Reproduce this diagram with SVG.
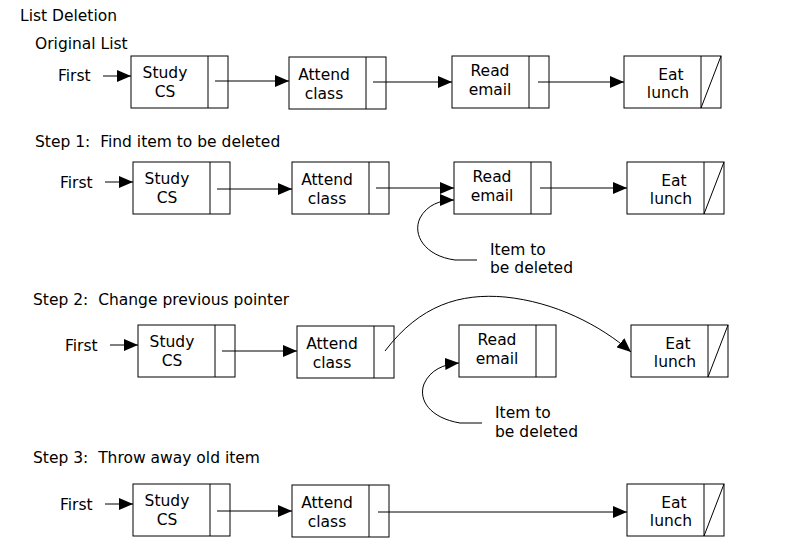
<svg xmlns="http://www.w3.org/2000/svg" width="800" height="550" viewBox="0 0 800 550">
<defs>
<style>
text{font-family:"DejaVu Sans","Liberation Sans",sans-serif;font-size:15.5px;fill:#000;white-space:pre}
.n text{text-anchor:middle}
.box{fill:#fff;stroke:#000;stroke-width:1}
.ln{fill:none;stroke:#000;stroke-width:1}
.c{fill:none;stroke:#000;stroke-width:1;marker-end:url(#ah)}
</style>
<marker id="ah" markerUnits="userSpaceOnUse" markerWidth="16" markerHeight="12" refX="14" refY="6" orient="auto">
<path d="M0,0 L14,6 L0,12 z" fill="#000"/>
</marker>
<g id="cell">
<rect class="box" x="0" y="0" width="97" height="52"/>
<line class="ln" x1="77" y1="0" x2="77" y2="52"/>
</g>
</defs>

<text x="20" y="21">List Deletion</text>
<text x="35" y="49">Original List</text>
<text x="35" y="147" xml:space="preserve">Step 1:  Find item to be deleted</text>
<text x="33" y="305" xml:space="preserve">Step 2:  Change previous pointer</text>
<text x="33" y="463" xml:space="preserve">Step 3:  Throw away old item</text>

<text x="58" y="81">First</text>
<text x="60" y="188">First</text>
<text x="65" y="351">First</text>
<text x="60" y="510">First</text>

<text x="490" y="255">Item to</text>
<text x="490" y="273">be deleted</text>
<text x="495" y="418">Item to</text>
<text x="495" y="437">be deleted</text>

<!-- Row 1 -->
<g id="r1-study" class="n" transform="translate(131,56)"><use href="#cell"/><text x="34" y="22">Study</text><text x="34" y="41">CS</text></g>
<g id="r1-attend" class="n" transform="translate(289,57)"><use href="#cell"/><text x="35" y="23">Attend</text><text x="35" y="42">class</text></g>
<g id="r1-read" class="n" transform="translate(452,56)"><use href="#cell"/><text x="38" y="20">Read</text><text x="38" y="39">email</text></g>
<g id="r1-eat" class="n" transform="translate(624,56)"><use href="#cell"/><line class="ln" x1="77" y1="52" x2="97" y2="0"/><text x="47" y="24">Eat</text><text x="44" y="42">lunch</text></g>

<!-- Row 2 -->
<g id="r2-study" class="n" transform="translate(133,162)"><use href="#cell"/><text x="34" y="22">Study</text><text x="34" y="41">CS</text></g>
<g id="r2-attend" class="n" transform="translate(292,162)"><use href="#cell"/><text x="35" y="23">Attend</text><text x="35" y="42">class</text></g>
<g id="r2-read" class="n" transform="translate(454,162)"><use href="#cell"/><text x="38" y="20">Read</text><text x="38" y="39">email</text></g>
<g id="r2-eat" class="n" transform="translate(627,162)"><use href="#cell"/><line class="ln" x1="77" y1="52" x2="97" y2="0"/><text x="47" y="24">Eat</text><text x="44" y="42">lunch</text></g>

<!-- Row 3 -->
<g id="r3-study" class="n" transform="translate(138,325)"><use href="#cell"/><text x="34" y="22">Study</text><text x="34" y="41">CS</text></g>
<g id="r3-attend" class="n" transform="translate(297,326)"><use href="#cell"/><text x="35" y="23">Attend</text><text x="35" y="42">class</text></g>
<g id="r3-read" class="n" transform="translate(459,325)"><use href="#cell"/><text x="38" y="20">Read</text><text x="38" y="39">email</text></g>
<g id="r3-eat" class="n" transform="translate(631,325)"><use href="#cell"/><line class="ln" x1="77" y1="52" x2="97" y2="0"/><text x="47" y="24">Eat</text><text x="44" y="42">lunch</text></g>

<!-- Row 4 -->
<g id="r4-study" class="n" transform="translate(133,484)"><use href="#cell"/><text x="34" y="22">Study</text><text x="34" y="41">CS</text></g>
<g id="r4-attend" class="n" transform="translate(292,485)"><use href="#cell"/><text x="35" y="23">Attend</text><text x="35" y="42">class</text></g>
<g id="r4-eat" class="n" transform="translate(627,484)"><use href="#cell"/><line class="ln" x1="77" y1="52" x2="97" y2="0"/><text x="47" y="24">Eat</text><text x="44" y="42">lunch</text></g>

<g id="connectors">
<path class="c" d="M103,76 L131,76"/>
<path class="c" d="M215,81 L289,81"/>
<path class="c" d="M373,82 L452,82"/>
<path class="c" d="M538,82 L624,82"/>

<path class="c" d="M105,182 L133,182"/>
<path class="c" d="M217,189 L292,189"/>
<path class="c" d="M376,188 L454,188"/>
<path class="c" d="M540,188 L627,188"/>
<path class="c" d="M477,260 L455,260 C425,256 412,235 420,218 C427,205 440,200 454,200"/>

<path class="c" d="M110,345 L138,345"/>
<path class="c" d="M222,351 L297,351"/>
<path class="c" d="M385,351 C420,305 460,293 505,297 C555,302 600,325 631,352"/>
<path class="c" d="M482,423 L460,423 C430,418 418,400 424,384 C430,370 444,364 459,363"/>

<path class="c" d="M105,504 L133,504"/>
<path class="c" d="M217,511 L292,511"/>
<path class="c" d="M378,512 L627,512"/>
</g>
</svg>
